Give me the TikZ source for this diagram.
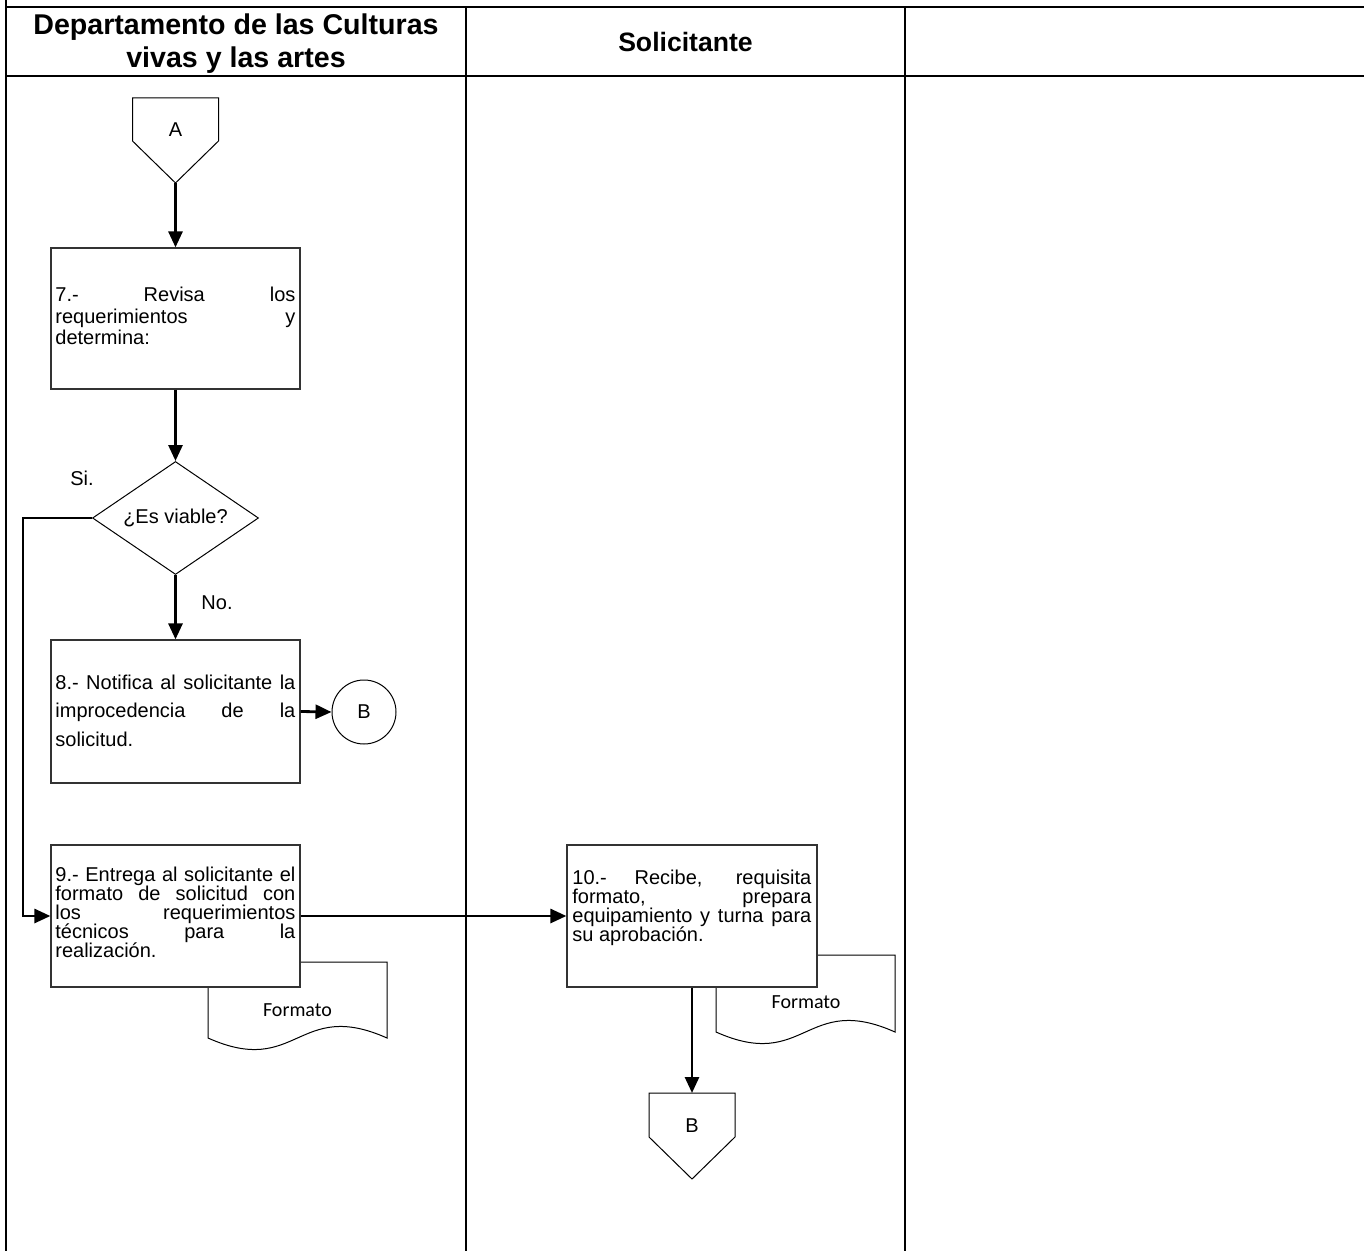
\documentclass[tikz,border=0pt]{standalone}
\usepackage{fontspec}
\setmainfont{Liberation Sans}
\newfontfamily\formfont{Carlito}
\usetikzlibrary{arrows.meta,shapes.geometric}
% one justified line of a step text
\newcommand\jline[2]{\makebox[#1][s]{#2}}
% step text: width, line distance, lines
\newcommand\steptext[3]{\parbox[t]{#1}{\fontsize{10pt}{#2}\selectfont\lineskiplimit=-\maxdimen\relax #3}}

\begin{document}
\begin{tikzpicture}[x=0.5pt,y=-0.5pt,
  lane/.style={line width=1.25pt},
  stepbox/.style={rectangle,draw=black!80,line width=0.6pt,fill=white,inner sep=0pt,
    minimum width=124.5pt,minimum height=71pt},
  flow/.style={line width=1.4pt,-{Triangle[length=8pt,width=7pt]}},
  outline/.style={draw=black,line width=0.5pt,fill=white},
  txt/.style={inner sep=0pt,font=\fontsize{10pt}{11pt}\selectfont},
  hdr/.style={inner sep=0pt,font=\fontsize{14.3pt}{16.5pt}\selectfont\bfseries},
  formtxt/.style={inner sep=0pt,font=\formfont\fontsize{10pt}{11pt}\selectfont}
]
\useasboundingbox (0,0) rectangle (1364,1251);

% swimlane frame
\draw[lane] (6,0) -- (6,1251);
\draw[lane] (6,7) -- (1364,7);
\draw[lane] (6,76) -- (1364,76);
\draw[lane] (466,7) -- (466,1251);
\draw[lane] (905,7) -- (905,1251);

% lane headers
\node[hdr,anchor=base] (h1) at (236,35)
  {\parbox[t]{225pt}{\centering\fontsize{14.3pt}{16.5pt}\selectfont\bfseries Departamento de las Culturas\\vivas y las artes}};
\node[hdr,anchor=base,font=\fontsize{13.3pt}{16pt}\selectfont\bfseries] (h2) at (685.5,52) {Solicitante};

% documents (behind the steps)
\path[outline] (208,962) -- (387,962) -- (387,1038)
  .. controls (297.5,998) and (297.5,1078) .. (208,1038) -- cycle;
\node[formtxt] (f1) at (297.5,1010) {Formato};
\path[outline] (716,955) -- (895,955) -- (895,1032)
  .. controls (805.5,992) and (805.5,1072) .. (716,1032) -- cycle;
\node[formtxt] (f2) at (806,1002) {Formato};

% off-page connector A
\path[outline] (132.5,98) -- (218.5,98) -- (218.5,141) -- (175.5,183) -- (132.5,141) -- cycle;
\node[txt] (offA) at (175.5,130) {A};
\coordinate (offAtip) at (175.5,183);

% steps
\node[stepbox,minimum height=70.5pt] (s7) at (175.5,318.5) {};
\node[stepbox,minimum height=71.5pt] (s8) at (175.5,711.5) {};
\node[stepbox] (s9) at (175.5,916) {};
\node[stepbox,minimum width=125pt] (s10) at (692,916) {};

\node[txt,anchor=base west] (t7) at (55,302) {\steptext{120pt}{10.75pt}{%
  \jline{120pt}{7.- Revisa los}\\\jline{120pt}{requerimientos y}\\determina:}};
\node[txt,anchor=base west] (t8) at (55,689) {\steptext{120pt}{14.25pt}{%
  \jline{120pt}{8.- Notifica al solicitante la}\\\jline{120pt}{improcedencia de la}\\solicitud.}};
\node[txt,anchor=base west] (t9) at (55,881) {\steptext{120pt}{9.5pt}{%
  \jline{120pt}{9.- Entrega al solicitante el}\\\jline{120pt}{formato de solicitud con}\\%
  \jline{120pt}{los requerimientos}\\\jline{120pt}{técnicos para la}\\realización.}};
\node[txt,anchor=base west] (t10) at (572,884) {\steptext{119.5pt}{9.5pt}{%
  \jline{119.5pt}{10.- Recibe, requisita}\\\jline{119.5pt}{formato, prepara}\\%
  \jline{119.5pt}{equipamiento y turna para}\\su aprobación.}};

% decision
\node[diamond,draw=black,line width=0.5pt,fill=white,inner sep=0pt,
  minimum width=83pt,minimum height=56.5pt] (q) at (175.5,518) {};
\node[txt] (qt) at (q) {¿Es viable?};
\node[txt] (si) at (82,478) {Si.};
\node[txt] (no) at (217,603) {No.};

% on-page connector B
\node[txt,circle,draw=black,line width=0.5pt,minimum size=32pt] (cB) at (364,712) {B};

% off-page connector B
\path[outline] (649,1093) -- (735,1093) -- (735,1137) -- (692,1179) -- (649,1137) -- cycle;
\node[txt] (offB) at (692,1126) {B};
\coordinate (offBtop) at (692,1093);

% flow
\coordinate (siturn) at (23,518);
\draw[flow] (offAtip) -- (s7.north);
\draw[flow] (s7.south) -- (q.north);
\draw[flow] (q.south) -- (s8.north);
\draw[flow] (s8.east) -- (cB.west);
\draw[flow] (q.west) -- (siturn) |- (s9.west);
\draw[flow] (s9.east) -- (s10.west);
\draw[flow] (s10.south) -- (offBtop);
\end{tikzpicture}
\end{document}
